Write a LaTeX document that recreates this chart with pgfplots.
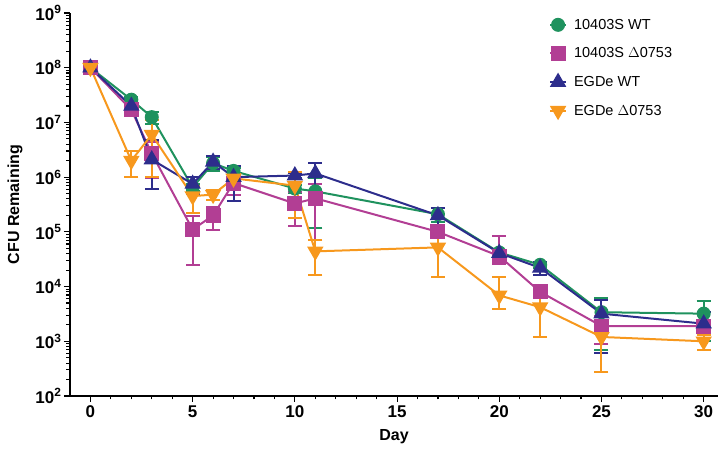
\documentclass[border=0pt]{standalone}
\usepackage{pgfplots}
\pgfplotsset{compat=1.18}
\usepackage{pgfplotstable}
\usepackage{fontspec}
\setmainfont{Liberation Sans}
\definecolor{cG}{RGB}{31,146,94}
\definecolor{cM}{RGB}{178,62,148}
\definecolor{cB}{RGB}{45,45,140}
\definecolor{cO}{RGB}{247,152,29}
\pgfplotstableread{
x y ep em
0 1e8 0 0
2 2.6e7 3e6 3e6
3 1.25e7 3e6 3e6
5 6.5e5 1e5 1e5
6 1.8e6 5e5 5e5
7 1.3e6 2e5 2e5
10 6.2e5 1e5 1e5
11 5.5e5 4.3e5 4.3e5
17 2.1e5 6e4 6e4
20 4.2e4 5e3 5e3
22 2.5e4 3e3 3e3
25 3.4e3 2.7e3 2.7e3
30 3.2e3 2.2e3 2.2e3
}\tG
\pgfplotstableread{
x y ep em
0 1e8 0 0
2 1.7e7 2e6 2e6
3 2.7e6 1.75e6 1.75e6
5 1.1e5 8.5e4 8.5e4
6 2.0e5 9e4 9e4
7 7.8e5 3e5 3e5
10 3.3e5 2e5 2e5
11 4.1e5 3.4e5 3.4e5
17 1.0e5 2e4 2e4
20 3.6e4 4.7e4 1e4
22 8.0e3 1.5e3 1.5e3
25 1.9e3 1e3 1e3
30 1.9e3 5e2 5e2
}\tM
\pgfplotstableread{
x y ep em
0 1e8 0 0
2 2.0e7 2e6 2e6
3 2.1e6 2.6e6 1.5e6
5 7.5e5 2.5e5 2.5e5
6 1.9e6 5e5 5e5
7 1.0e6 6.3e5 6.3e5
10 1.07e6 1e5 1e5
11 1.17e6 6.5e5 6.5e5
17 2.0e5 7e4 7e4
20 4.1e4 5e3 5e3
22 2.2e4 6e3 6e3
25 3.2e3 2.6e3 2.6e3
30 2.1e3 1.4e3 1.4e3
}\tB
\pgfplotstableread{
x y ep em
0 1e8 0 0
2 2.0e6 1.0e6 1.0e6
3 6.0e6 5e6 5e6
5 4.5e5 2.3e5 2.3e5
6 4.8e5 1e5 1e5
7 9.5e5 2e5 2e5
10 7.0e5 5.2e5 5.2e5
11 4.4e4 2.8e4 2.8e4
17 5.2e4 3.7e4 3.7e4
20 6.9e3 8e3 3e3
22 4.2e3 3e3 3e3
25 1.2e3 9.3e2 9.3e2
30 1.0e3 3e2 3e2
}\tO
\begin{document}
\begin{tikzpicture}
\useasboundingbox (-70pt,-55pt) rectangle (653pt,396pt);
\begin{axis}[
  scale only axis,
  width=648pt, height=383pt,
  ymode=log,
  xmin=-1, xmax=30.7,
  ymin=1e2, ymax=1e9,
  axis x line*=bottom, axis y line*=left,
  axis line style={line width=1.3pt, -},
  tick align=outside,
  major tick length=6pt, minor tick length=3.5pt,
  every tick/.style={black, line width=1.1pt},
  xtick={0,5,...,30}, minor x tick num=4,
  ytick={1e2,1e3,1e4,1e5,1e6,1e7,1e8,1e9},
  yticklabels={\textbf{10\textsuperscript{2}},\textbf{10\textsuperscript{3}},\textbf{10\textsuperscript{4}},\textbf{10\textsuperscript{5}},\textbf{10\textsuperscript{6}},\textbf{10\textsuperscript{7}},\textbf{10\textsuperscript{8}},\textbf{10\textsuperscript{9}}},
  /pgf/number format/assume math mode=true,
  ticklabel style={font=\fontsize{17}{19}\selectfont\bfseries},
  yticklabel style={xshift=1pt},
  xlabel={\textbf{Day}}, ylabel={\textbf{CFU Remaining}},
  label style={font=\fontsize{16}{18}\selectfont},
  xlabel style={at={(axis description cs:0.5,0)}, yshift=-41pt, anchor=center},
  ylabel style={at={(axis description cs:-0.085,0.5)}, anchor=center},
  legend style={draw=none, fill=none, at={(rel axis cs:0.739,0.99)}, anchor=north west,
    font=\fontsize{14.5}{16}\selectfont, row sep=13pt, inner sep=0pt,
    /tikz/every odd column/.style={column sep=5pt}},
  legend cell align=left,
  legend image code/.code={\draw[#1] (0pt,0pt) -- (16pt,0pt); \draw[#1,only marks] plot coordinates {(8pt,0pt)};},
  every axis plot/.append style={line width=2pt},
  error bars/y dir=both, error bars/y explicit,
  error bars/error bar style={line width=2pt},
  error bars/error mark options={rotate=90, mark size=7pt, line width=2pt},
]
\addplot[cG, mark=*, mark size=6pt, mark options={solid}] table[x=x, y=y, y error plus=ep, y error minus=em]{\tG};
\addlegendentry{10403S WT}
\addplot[cM, mark=square*, mark size=6.5pt, mark options={solid}] table[x=x, y=y, y error plus=ep, y error minus=em]{\tM};
\addlegendentry{10403S $\Delta$0753}
\addplot[cB, mark=triangle*, mark size=7.5pt, mark options={solid}] table[x=x, y=y, y error plus=ep, y error minus=em]{\tB};
\addlegendentry{EGDe WT}
\addplot[cO, mark=triangle*, mark size=7.5pt, mark options={solid, rotate=180}] table[x=x, y=y, y error plus=ep, y error minus=em]{\tO};
\addlegendentry{EGDe $\Delta$0753}
\end{axis}
\end{tikzpicture}
\end{document}
